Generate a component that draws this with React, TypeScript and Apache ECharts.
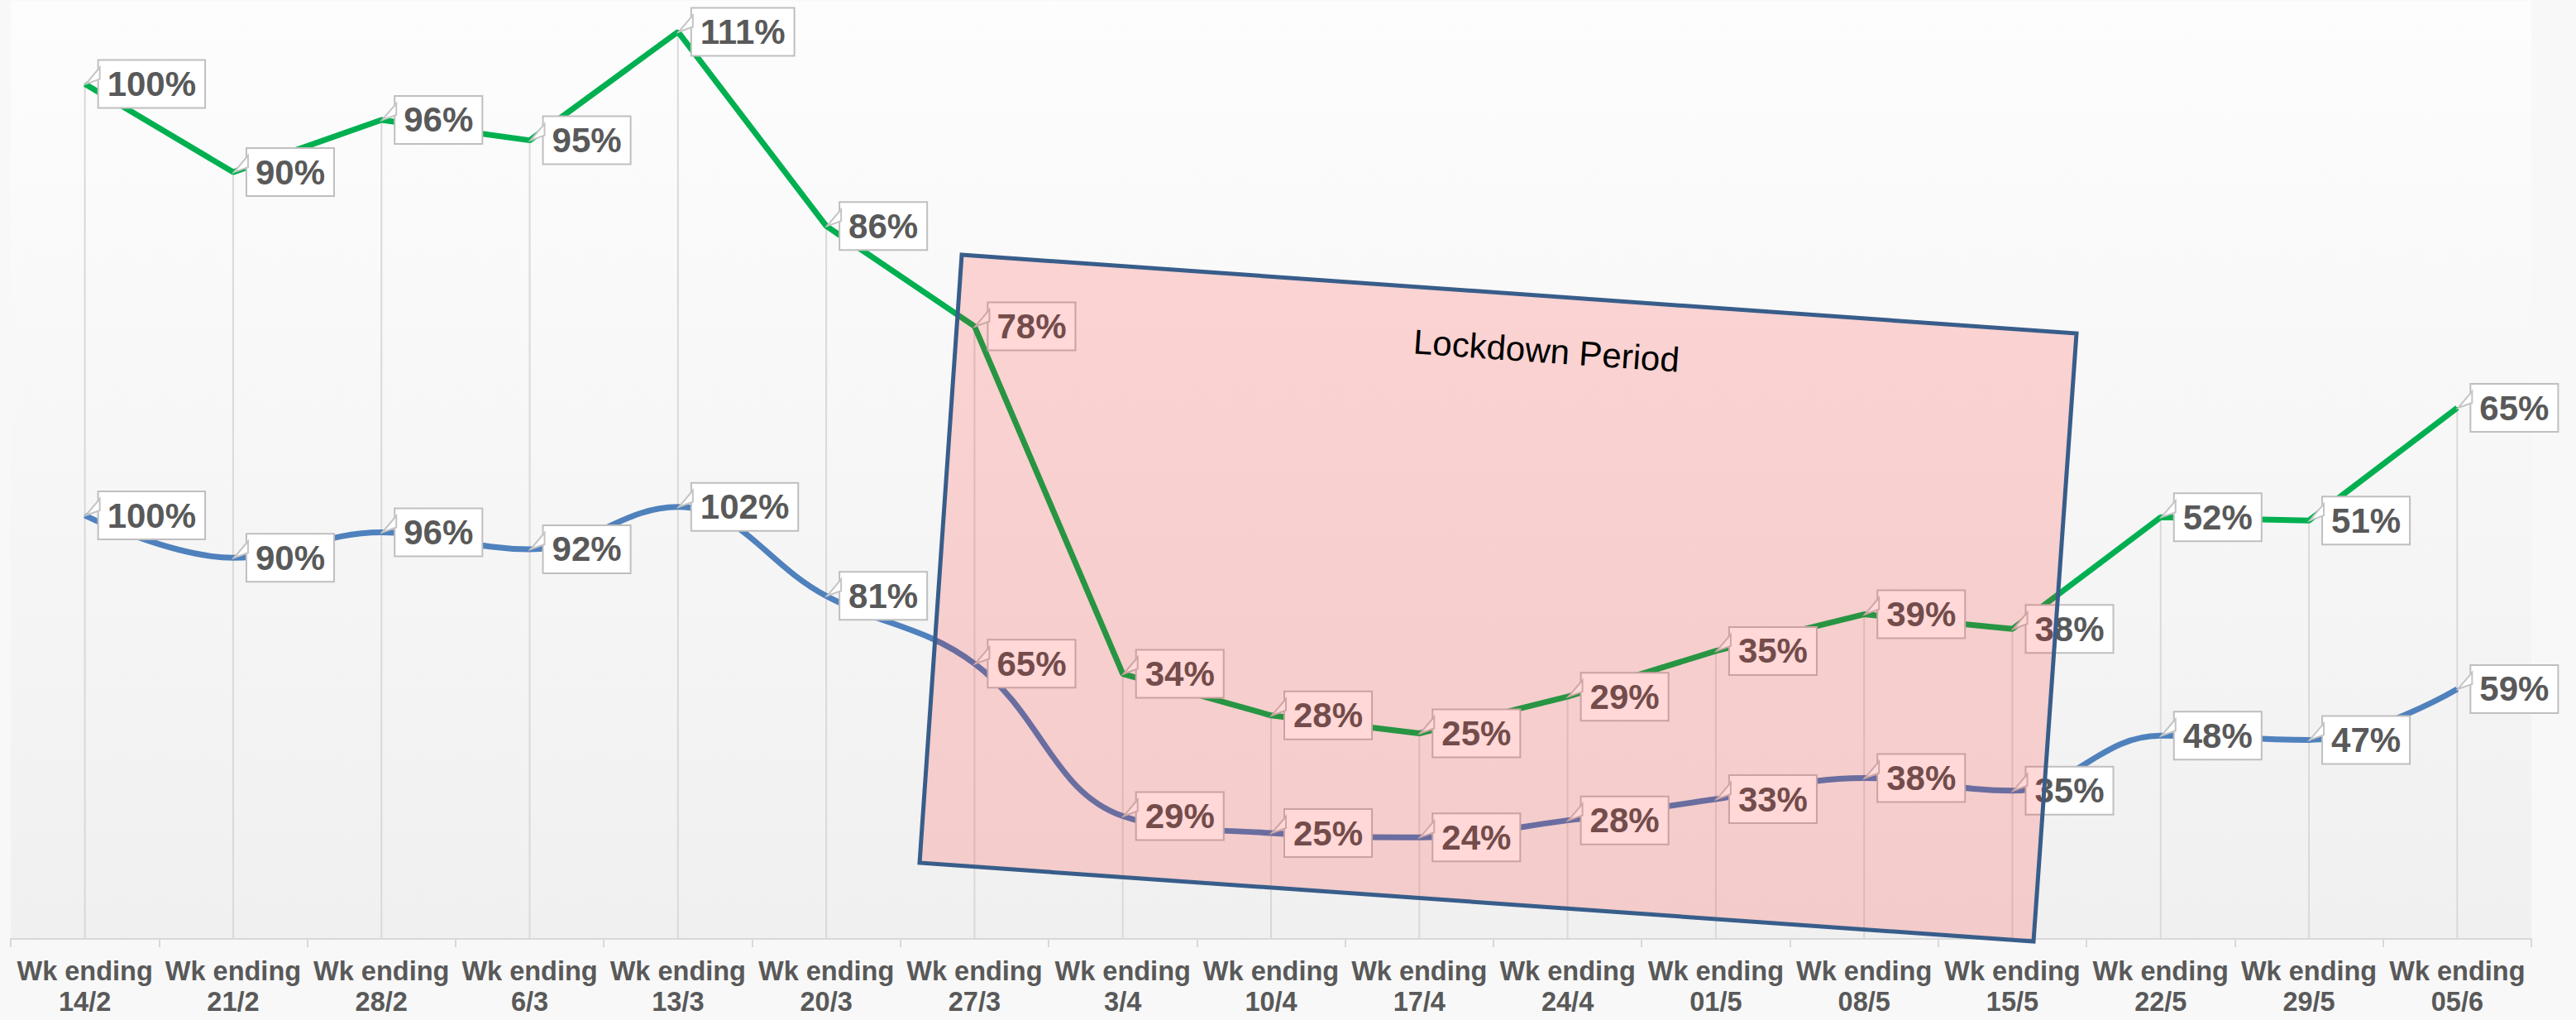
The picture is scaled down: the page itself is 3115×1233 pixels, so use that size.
import React, { useEffect, useRef } from "react";
import * as echarts from "echarts";

const categories = [
  "Wk ending\n14/2", "Wk ending\n21/2", "Wk ending\n28/2", "Wk ending\n6/3",
  "Wk ending\n13/3", "Wk ending\n20/3", "Wk ending\n27/3", "Wk ending\n3/4",
  "Wk ending\n10/4", "Wk ending\n17/4", "Wk ending\n24/4", "Wk ending\n01/5",
  "Wk ending\n08/5", "Wk ending\n15/5", "Wk ending\n22/5", "Wk ending\n29/5",
  "Wk ending\n05/6",
];

// green series: plotted level (as drawn) and printed label
const greenValues = [104.8, 94.0, 100.4, 97.9, 111.2, 87.4, 75.1, 32.5, 27.4, 25.2, 29.7, 35.3, 39.8, 38.0, 51.7, 51.3, 65.1];
const greenLabels = [100, 90, 96, 95, 111, 86, 78, 34, 28, 25, 29, 35, 39, 38, 52, 51, 65];

// blue series
const blueValues = [100, 90, 96, 92, 102, 81, 65, 29, 25, 24, 28, 33, 38, 35, 48, 47, 59];

const FONT = "'Liberation Sans', Arial, sans-serif";

const labelStyle = {
  show: true,
  position: "right",
  distance: 16,
  fontFamily: FONT,
  fontSize: 42,
  fontWeight: "bold",
  color: "#595959",
  backgroundColor: "#ffffff",
  borderColor: "#bfbfbf",
  borderWidth: 2,
  padding: [6, 10, 4, 10],
  lineHeight: 46,
};

// callout tail from the data point to the label box
const tailRender = (params: any, api: any) => {
  const p = api.coord([api.value(0), api.value(1)]);
  const x = p[0];
  const y = p[1];
  return {
    type: "polygon",
    shape: {
      points: [
        [x + 1, y],
        [x + 18, y - 20],
        [x + 18, y - 6],
      ],
    },
    style: { fill: "#ffffff", stroke: "#c4c4c4", lineWidth: 2 },
    silent: true,
  };
};

export default function App() {
  const ref = useRef<HTMLDivElement>(null);
  useEffect(() => {
    if (!ref.current) return;
    const chart = echarts.init(ref.current, null, { renderer: "svg" });
    chart.setOption({
      animation: false,
      backgroundColor: "#f8f8f8",
      grid: {
        left: 13,
        right: 54,
        top: 1,
        bottom: 98,
        show: true,
        borderWidth: 0,
        backgroundColor: new echarts.graphic.LinearGradient(0, 0, 0, 1, [
          { offset: 0, color: "#fdfdfd" },
          { offset: 1, color: "#f0f0f0" },
        ]),
      },
      xAxis: {
        type: "category",
        data: categories,
        boundaryGap: true,
        axisLine: { lineStyle: { color: "#d9d9d9", width: 2 } },
        axisTick: { show: true, length: 10, lineStyle: { color: "#d9d9d9", width: 2 } },
        splitLine: { show: false },
        axisLabel: {
          interval: 0,
          margin: 20,
          fontFamily: FONT,
          fontSize: 32.5,
          fontWeight: "bold",
          color: "#595959",
          lineHeight: 37,
        },
      },
      yAxis: [
        { type: "value", min: 0, max: 115, show: false, splitLine: { show: false } },
        { type: "value", min: 0, max: 221.5, show: false, splitLine: { show: false } },
      ],
      series: [
        {
          name: "drop",
          type: "bar",
          yAxisIndex: 0,
          data: greenValues,
          barWidth: 2,
          itemStyle: { color: "#d9d9d9" },
          silent: true,
          z: 1,
        },
        {
          name: "blue",
          type: "line",
          yAxisIndex: 1,
          data: blueValues,
          smooth: 0.4,
          symbol: "circle",
          symbolSize: 2,
          itemStyle: { color: "#4f81bd" },
          lineStyle: { color: "#4f81bd", width: 7 },
          label: { ...labelStyle, formatter: (p: any) => `${blueValues[p.dataIndex]}%` },
          z: 3,
        },
        {
          name: "green",
          type: "line",
          yAxisIndex: 0,
          data: greenValues,
          smooth: false,
          symbol: "circle",
          symbolSize: 2,
          itemStyle: { color: "#00b050" },
          lineStyle: { color: "#00b050", width: 7 },
          label: { ...labelStyle, formatter: (p: any) => `${greenLabels[p.dataIndex]}%` },
          z: 4,
        },
        {
          name: "blueTail",
          type: "custom",
          yAxisIndex: 1,
          data: blueValues.map((v, i) => [i, v]),
          renderItem: tailRender,
          silent: true,
          z: 5,
        },
        {
          name: "greenTail",
          type: "custom",
          yAxisIndex: 0,
          data: greenValues.map((v, i) => [i, v]),
          renderItem: tailRender,
          silent: true,
          z: 5,
        },
      ],
      graphic: [
        {
          type: "polygon",
          z: 100,
          silent: true,
          shape: {
            points: [
              [1163, 308],
              [2511, 403],
              [2459, 1138],
              [1112, 1043],
            ],
          },
          style: {
            fill: "rgba(255, 8, 0, 0.155)",
            stroke: "#385d8a",
            lineWidth: 5,
            lineJoin: "miter",
          },
        },
        {
          type: "text",
          z: 101,
          silent: true,
          x: 1870,
          y: 424,
          rotation: -0.0705,
          style: {
            text: "Lockdown Period",
            fontFamily: FONT,
            fontSize: 42,
            fill: "#000000",
            align: "center",
            verticalAlign: "middle",
          },
        },
      ],
    });
    return () => chart.dispose();
  }, []);
  return (
    <div
      ref={ref}
      style={{ position: "absolute", left: 0, top: 0, width: 3115, height: 1233 }}
    />
  );
}
